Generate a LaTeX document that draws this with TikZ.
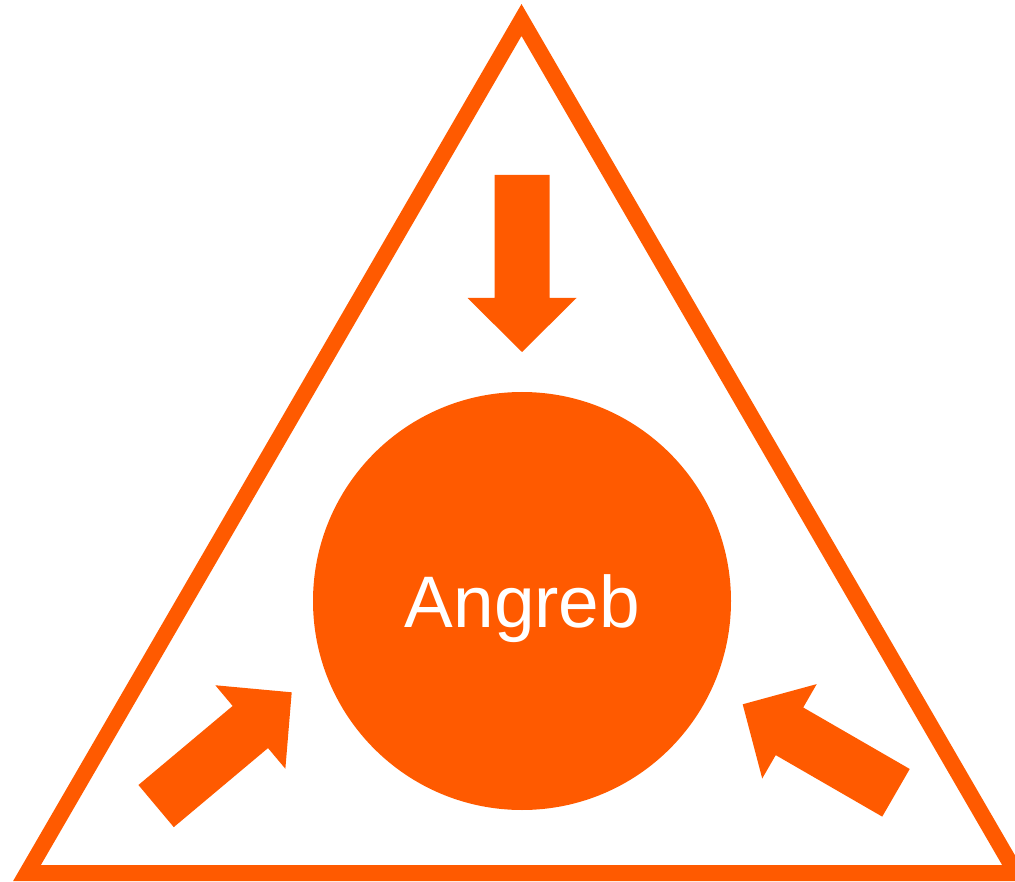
\documentclass[tikz,border=0pt]{standalone}
\usepackage{fontspec}
\setmainfont{Liberation Sans}
\definecolor{brand}{HTML}{FF5A00}
\tikzset{
  blockarrow/.pic={\fill[brand] (0,0) -- (-54,54.5) -- (-54,27.5) -- (-177,27.5) -- (-177,-27.5) -- (-54,-27.5) -- (-54,-54.5) -- cycle;},
  tri/.style={draw=brand, line width=16pt, line join=miter},
  disc/.style={circle, fill=brand, inner sep=0pt, minimum size=418pt},
  label/.style={text=white, font=\fontsize{73}{87}\selectfont, anchor=base, inner sep=0pt}
}
\begin{document}
\begin{tikzpicture}[x=1pt, y=-1pt]
\useasboundingbox (0,0) rectangle (1015,882);
\clip (0,0) rectangle (1015,882);
\draw[tri] (521.5,20) -- (27,873) -- (1016,873) -- cycle;
\node[disc] (c) at (522,601) {};
\node[label] (t) at (522.5,627) {Angreb};
\pic[rotate=-90] at (522,352) {blockarrow};
\pic[rotate=40] at (291.7,692.3) {blockarrow};
\pic[rotate=150] at (742.7,704.3) {blockarrow};
\end{tikzpicture}
\end{document}
